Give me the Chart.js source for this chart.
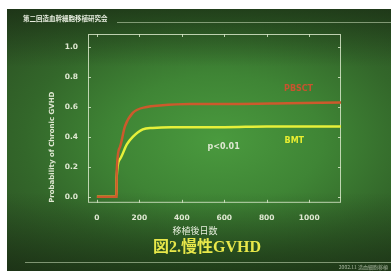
<!DOCTYPE html>
<html>
<head>
<meta charset="utf-8">
<script src="https://cdn.jsdelivr.net/npm/chart.js@4"></script>
<style>
  html, body { margin: 0; padding: 0; background: #fff; }
  #wrap {
    position: absolute; left: 7px; top: 9px; width: 384px; height: 262px;
    background:
      linear-gradient(to bottom, rgba(20,35,15,0.55) 0%, rgba(20,35,15,0) 22%, rgba(20,35,15,0) 70%, rgba(20,35,15,0.6) 100%),
      radial-gradient(ellipse at 55% 50%, #4a9a3e 0%, #3f8535 35%, #33672a 65%, #2a4c22 100%);
  }
</style>
</head>
<body>
<div id="wrap"><canvas id="gvhd"></canvas></div>
<script>
"use strict"

// days after transplant / cumulative probability
const pbsctDays = [0, 92, 93, 108, 132, 169, 235, 296, 437, 640, 900, 1150];
const pbsctProb = [0, 0, 0.16, 0.33, 0.47, 0.56, 0.60, 0.61, 0.62, 0.62, 0.625, 0.63];
const bmtDays = [0, 92, 93, 108, 141, 169, 216, 263, 350, 600, 800, 1000, 1150];
const bmtProb = [0, 0, 0.13, 0.25, 0.35, 0.40, 0.45, 0.46, 0.465, 0.465, 0.47, 0.47, 0.47];
const xTicks = [0, 200, 400, 600, 800, 1000];
const yTicks = [0, 0.2, 0.4, 0.6, 0.8, 1.0];

const frameColor = 'rgba(215,230,200,0.85)';
const textColor = '#dfe8d2';

function points(xs, ys) {
    return xs.map((v, i) => ({x: v, y: ys[i]}));
}

const decor = {
    id: 'decor',
    beforeDatasetsDraw(chart) {
        const {ctx, chartArea: a, scales} = chart;
        ctx.save();
        ctx.strokeStyle = frameColor;
        ctx.lineWidth = 1;
        ctx.strokeRect(a.left + 0.5, a.top + 0.5, a.width - 1, a.height - 1);
        ctx.beginPath();
        xTicks.forEach(v => {
            const px = Math.round(scales.x.getPixelForValue(v)) + 0.5;
            ctx.moveTo(px, a.bottom); ctx.lineTo(px, a.bottom - 3);
            ctx.moveTo(px, a.top); ctx.lineTo(px, a.top + 3);
        });
        yTicks.forEach(v => {
            const py = Math.round(scales.y.getPixelForValue(v)) + 0.5;
            ctx.moveTo(a.left, py); ctx.lineTo(a.left + 3, py);
            ctx.moveTo(a.right, py); ctx.lineTo(a.right - 3, py);
        });
        ctx.stroke();
        ctx.restore();
    },
    afterDraw(chart) {
        const {ctx, scales: {x, y}, width} = chart;
        ctx.save();
        // header and footer rules
        ctx.strokeStyle = 'rgba(190,210,175,0.6)';
        ctx.lineWidth = 1;
        ctx.beginPath();
        ctx.moveTo(110, 13.5); ctx.lineTo(width, 13.5);
        ctx.moveTo(18, 253.5); ctx.lineTo(width, 253.5);
        ctx.stroke();

        ctx.textAlign = 'center';
        ctx.textBaseline = 'middle';
        // curve labels
        ctx.font = 'bold 8px "DejaVu Sans"';
        ctx.fillStyle = '#c8532e';
        ctx.fillText('PBSCT', x.getPixelForValue(950), y.getPixelForValue(0.72));
        ctx.fillStyle = '#e8ee30';
        ctx.fillText('BMT', x.getPixelForValue(930), y.getPixelForValue(0.37));
        ctx.fillStyle = textColor;
        ctx.fillText('p<0.01', x.getPixelForValue(597), y.getPixelForValue(0.33));

        // x axis title
        ctx.font = '9px "Noto Sans CJK JP"';
        ctx.fillStyle = '#e6eedc';
        ctx.fillText('移植後日数', 188, 222);

        // footer note
        ctx.font = '5px "Noto Sans CJK JP"';
        ctx.fillStyle = 'rgba(220,230,210,0.7)';
        ctx.textAlign = 'right';
        ctx.fillText('2002.11 造血細胞移植', 381, 258);
        ctx.restore();
    }
};

const ctx = document.getElementById('gvhd');

new Chart(ctx, {
    type: 'line',
    data: {
        datasets: [{
            label: 'PBSCT',
            data: points(pbsctDays, pbsctProb),
            borderColor: '#cc5a2c',
            borderWidth: 2.5,
            pointRadius: 0,
            cubicInterpolationMode: 'monotone'
        }, {
            label: 'BMT',
            data: points(bmtDays, bmtProb),
            borderColor: '#e6f03a',
            borderWidth: 2.5,
            pointRadius: 0,
            cubicInterpolationMode: 'monotone'
        }]
    },
    options: {
        responsive: true,
        maintainAspectRatio: false,
        animation: false,
        layout: {padding: {left: 16, right: 0, top: 4, bottom: 10}},
        plugins: {
            legend: {display: false},
            tooltip: {enabled: false},
            subtitle: {
                display: true,
                text: '第二回造血幹細胞移植研究会',
                position: 'top',
                align: 'start',
                color: '#e8eee0',
                font: {family: '"Noto Sans CJK JP"', size: 6.5, weight: 'bold'},
                padding: {top: 2, bottom: 11.2}
            },
            title: {
                display: true,
                text: '図2.慢性GVHD',
                position: 'bottom',
                color: '#e8e84a',
                font: {family: '"Liberation Serif", "Noto Sans CJK JP"', size: 16, weight: 'bold'},
                padding: {top: 2, bottom: 4}
            }
        },
        scales: {
            x: {
                type: 'linear',
                min: -42,
                max: 1150,
                grid: {display: false, drawTicks: false},
                border: {display: false},
                afterBuildTicks: s => { s.ticks = xTicks.map(v => ({value: v})); },
                afterFit: s => { s.height = 33; },
                ticks: {
                    color: textColor,
                    padding: 11,
                    font: {family: '"DejaVu Sans"', size: 7.5, weight: 'bold'},
                    callback: v => String(v)
                }
            },
            y: {
                min: -0.04,
                max: 1.087,
                grid: {display: false, drawTicks: false},
                border: {display: false},
                afterBuildTicks: s => { s.ticks = yTicks.map(v => ({value: v})); },
                afterFit: s => { s.width = 65; },
                ticks: {
                    color: textColor,
                    padding: 10,
                    font: {family: '"DejaVu Sans"', size: 7.5, weight: 'bold'},
                    callback: v => v.toFixed(1)
                },
                title: {
                    display: true,
                    text: 'Probability of Chronic GVHD',
                    align: 'start',
                    color: textColor,
                    font: {family: '"DejaVu Sans"', size: 7, weight: 'bold'},
                    padding: {top: 25, bottom: 0}
                }
            },
            y2: {
                position: 'right',
                grid: {display: false, drawTicks: false},
                border: {display: false},
                ticks: {display: false},
                afterFit: s => { s.width = 50; }
            }
        }
    },
    plugins: [decor]
});
</script>
</body>
</html>
